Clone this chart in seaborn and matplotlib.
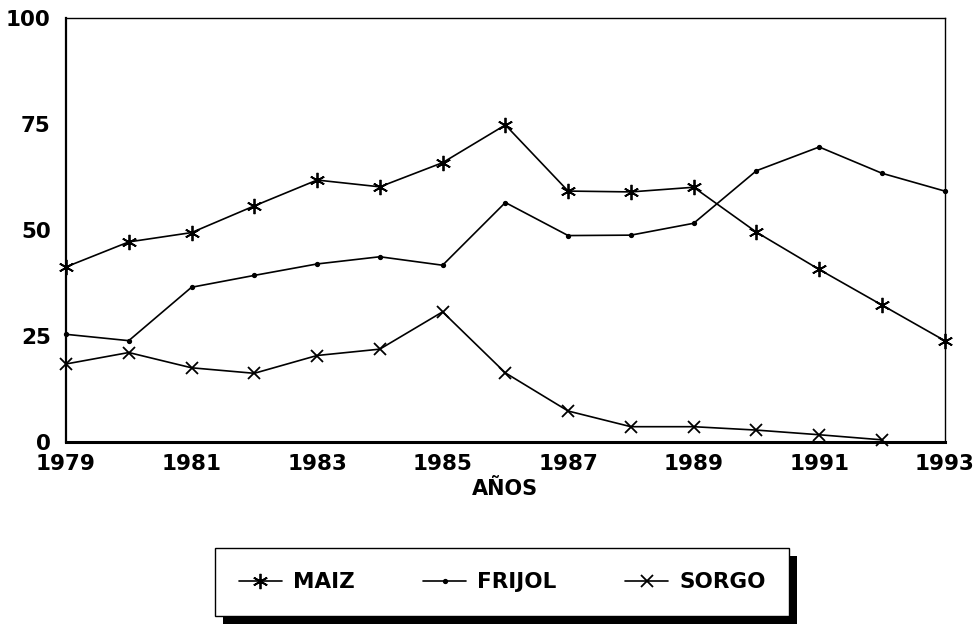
import matplotlib
matplotlib.use("Agg")
import matplotlib.pyplot as plt
from matplotlib.patches import Rectangle
import seaborn as sns

# datos
anios = list(range(1979, 1994))
maiz = [41.3, 47.2, 49.4, 55.7, 61.8, 60.2, 65.9, 74.8, 59.2, 59.0, 60.1, 49.5, 40.7, 32.3, 23.9]
frijol = [25.4, 23.9, 36.5, 39.3, 42.0, 43.7, 41.7, 56.5, 48.7, 48.8, 51.6, 64.0, 69.6, 63.4, 59.2]
sorgo = [18.4, 21.1, 17.5, 16.2, 20.4, 21.9, 30.7, 16.3, 7.3, 3.6, 3.6, 2.8, 1.7, 0.5]
series = ["MAIZ", "FRIJOL", "SORGO"]

sns.set_theme(style="white")
plt.rcParams["font.family"] = ["DejaVu Sans"]
plt.rcParams["font.weight"] = "bold"
plt.rcParams["text.color"] = "black"
plt.rcParams["xtick.color"] = "black"
plt.rcParams["ytick.color"] = "black"
plt.rcParams["axes.labelcolor"] = "black"

fig = plt.figure(figsize=(9.79, 6.26), dpi=100)
ax = fig.add_axes([0.0674, 0.294, 0.8976, 0.677])

# una linea por cultivo (marcadores distintos)
estilos = {"MAIZ": ((6, 2, 0), 11), "FRIJOL": (".", 5), "SORGO": ("x", 9)}
valores = {"MAIZ": maiz, "FRIJOL": frijol, "SORGO": sorgo}
handles = []
for nombre in series:
    mk, ms = estilos[nombre]
    v = valores[nombre]
    sns.lineplot(x=anios[:len(v)], y=v, color="black", marker=mk, markersize=ms,
                 markeredgewidth=1.3, markeredgecolor="black", linewidth=1.2,
                 clip_on=False, ax=ax)
    handles.append(ax.lines[-1])

ax.set_xlim(1979, 1993)
ax.set_ylim(0, 100)
ax.set_xticks(anios)
ax.set_xticklabels([str(a) if a % 2 == 1 else "" for a in anios])
ax.set_yticks([0, 25, 50, 75, 100])
ax.tick_params(axis="x", direction="inout", length=14, width=1.2, labelsize=15.5, pad=2)
ax.tick_params(axis="y", direction="out", length=7, width=1.2, labelsize=15.5, pad=4)
for lab in ax.get_xticklabels() + ax.get_yticklabels():
    lab.set_fontweight("bold")
ax.set_xlabel("AÑOS", fontsize=15, fontweight="bold", labelpad=3)
ax.set_ylabel("")
for s in ax.spines.values():
    s.set_color("black")
    s.set_linewidth(1.0)
ax.spines["bottom"].set_linewidth(2.2)
ax.spines["left"].set_linewidth(1.6)

# leyenda con sombra negra
leg = fig.legend(handles, series, loc="center", bbox_to_anchor=(0.513, 0.07), ncol=3,
                 frameon=True, fancybox=False, shadow=False, framealpha=1,
                 facecolor="white", edgecolor="black",
                 prop={"weight": "bold", "size": 15.5}, handlelength=2.0, columnspacing=3.2,
                 borderpad=1.1, handletextpad=0.5)
leg.get_frame().set_linewidth(1.0)
fig.canvas.draw()
bb = leg.get_window_extent()
fig.patches.append(Rectangle((bb.x0 + 8, bb.y0 - 8), bb.width, bb.height,
                             transform=None, facecolor="black", edgecolor="none", zorder=0))
leg.set_zorder(5)

fig.savefig("out.png", dpi=100)
